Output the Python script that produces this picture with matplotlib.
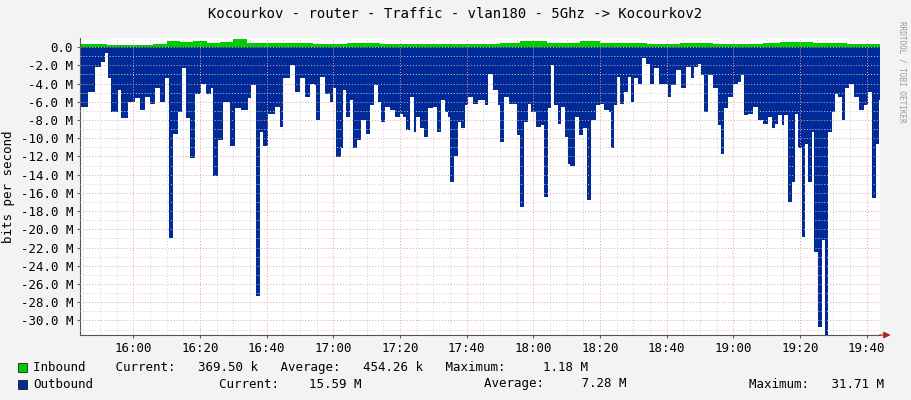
import numpy as np
import matplotlib.pyplot as plt
from matplotlib.patches import Rectangle

# minutes after 15:44, outbound traffic in Mbit/s (plotted negative)
out_min = [0.4, 2.4, 4.4, 6.4, 7.4, 8.4, 9.4, 11.4, 12.4, 14.4, 16.4, 17.9, 19.4, 20.9,
           22.4, 23.9, 25.4, 26.6, 27.9, 29.4, 30.6, 31.9, 32.9, 34.4, 36.4, 37.9, 39.4,
           39.9, 41.4, 42.9, 44.9, 46.4, 48.4, 50.4, 51.4, 52.7, 53.9, 54.9, 56.4, 58.4,
           59.9, 60.9, 62.9, 64.4, 65.9, 67.4, 68.9, 70.4, 70.9, 71.9, 73.4, 74.9, 75.9,
           76.9, 78.2, 78.9, 79.9, 80.9, 81.9, 83.2, 84.4, 85.9, 86.9, 88.2, 89.4, 90.2,
           91.4, 92.9, 94.4, 95.9, 96.9, 97.9, 99.1, 100.1, 100.9, 101.9, 103.1, 104.4,
           105.9, 107.1, 108.2, 109.4, 110.4, 111.1, 112.2, 113.4, 114.4, 115.4, 116.4,
           117.9, 119.4, 121.4, 122.3, 123.8, 125.3, 126.0, 127.3, 128.8, 130.3, 131.1,
           132.1, 133.1, 134.3, 135.3, 136.8, 138.3, 139.1, 140.3, 141.3, 142.3, 143.3,
           144.3, 145.5, 146.3, 147.1, 148.5, 149.8, 150.8, 152.1, 153.3, 154.8, 156.1,
           157.3, 158.6, 159.3, 160.3, 161.1, 162.1, 163.3, 164.3, 165.3, 166.3, 167.5,
           168.5, 169.8, 171.1, 172.3, 173.8, 175.3, 176.3, 177.3, 178.8, 180.3, 181.8,
           183.3, 184.3, 185.3, 186.3, 187.3, 188.5, 189.8, 191.3, 192.3, 193.3, 194.3,
           195.8, 197.3, 198.3, 199.3, 200.3, 201.8, 203.3, 204.8, 206.3, 207.5, 208.5,
           209.3, 210.5, 211.3, 212.5, 213.5, 214.5, 215.5, 216.5, 217.5, 218.5, 219.5,
           220.3, 221.3, 222.5, 223.4, 224.3, 225.5, 226.5, 227.5, 228.5, 229.5, 230.8,
           232.3, 233.8, 235.3, 236.5, 237.5, 238.8, 239.8]
out_val = [6.6, 4.9, 2.2, 1.6, 0.7, 3.4, 7.1, 4.7, 7.8, 6.0, 5.6, 6.9, 5.5, 6.2,
           4.5, 6.0, 3.4, 21.0, 9.5, 7.1, 2.3, 7.8, 12.2, 5.1, 4.0, 5.1, 4.5,
           14.2, 10.2, 6.0, 10.8, 6.7, 6.9, 5.6, 4.2, 27.3, 9.3, 10.8, 7.3, 6.6,
           8.8, 3.4, 2.0, 4.9, 3.4, 5.5, 4.0, 4.2, 8.0, 3.3, 5.1, 6.0, 4.5,
           12.1, 11.1, 4.7, 7.7, 5.8, 11.1, 10.2, 8.0, 9.5, 6.4, 4.2, 6.0, 8.2,
           6.6, 6.9, 7.7, 7.3, 7.7, 9.1, 5.5, 9.3, 7.7, 8.9, 9.9, 6.7,
           6.6, 9.3, 5.8, 7.1, 7.7, 14.8, 11.9, 8.2, 8.9, 6.4, 5.5,
           6.2, 5.8, 6.4, 2.9, 4.7, 6.4, 10.4, 5.5, 6.2, 6.2, 9.7,
           17.5, 8.2, 6.2, 7.1, 8.8, 8.6, 16.4, 6.7, 2.0, 6.4, 8.4,
           6.6, 9.9, 12.8, 13.0, 7.7, 9.7, 8.9, 16.8, 8.0, 6.4, 6.2,
           6.9, 7.1, 11.1, 6.4, 3.3, 6.2, 4.9, 3.3, 6.0, 3.4, 4.0,
           1.2, 1.8, 4.0, 2.3, 4.0, 4.0, 5.5, 4.2, 2.5, 4.5, 2.2,
           3.4, 2.2, 1.8, 3.1, 7.1, 3.1, 4.5, 8.6, 11.7, 6.7, 5.5,
           4.0, 3.8, 3.1, 7.5, 7.3, 6.6, 8.0, 8.4, 7.7, 8.9, 8.4,
           7.5, 8.6, 7.5, 17.0, 14.8, 7.3, 11.1, 20.8, 10.6, 14.8, 9.3,
           22.5, 30.7, 21.2, 31.6, 9.3, 7.1, 5.1, 5.5, 8.0, 4.5, 4.0,
           5.5, 6.9, 6.4, 4.9, 16.6, 10.6, 5.8]

# inbound traffic in Mbit/s
in_min = [0, 8, 16, 22, 26, 30, 34, 38, 42, 46, 50, 54, 60, 70, 80, 90, 100, 110, 120,
          126, 132, 140, 146, 150, 156, 160, 170, 180, 190, 200, 205, 210, 215, 220,
          230, 240]
in_val = [0.3, 0.25, 0.2, 0.35, 0.65, 0.55, 0.7, 0.45, 0.55, 0.85, 0.4, 0.5, 0.4,
          0.35, 0.4, 0.35, 0.3, 0.35, 0.3, 0.45, 0.7, 0.4, 0.5, 0.65, 0.4, 0.45,
          0.35, 0.4, 0.35, 0.35, 0.45, 0.55, 0.6, 0.45, 0.35, 0.35]

tick_labels = ['16:00', '16:20', '16:40', '17:00', '17:20', '17:40', '18:00',
               '18:20', '18:40', '19:00', '19:20', '19:40']
tick_min = [16 + 20 * i for i in range(len(tick_labels))]

bg = '#f3f3f3'
mono = 'DejaVu Sans Mono'
fig = plt.figure(figsize=(9.11, 4.0), dpi=100, facecolor=bg)
ax = fig.add_axes([80 / 911, 65 / 400, 800 / 911, 297 / 400])
ax.set_facecolor('white')

ax.fill_between(out_min + [240], -np.array(out_val + [out_val[-1]]), 0,
                step='post', color='#002a97', lw=0)
ax.fill_between(in_min, in_val, 0, step='post', color='#00cc00', lw=0)

ax.set_xlim(0, 240)
ax.set_ylim(-31.6, 1.0)
for m in np.arange(1, 240, 5):
    if (m - 16) % 20:
        ax.axvline(m, color='#cfcfcf', ls=(0, (1, 2)), lw=0.7, zorder=0.5)
for m in tick_min:
    ax.axvline(m, color='#e8a0a0', ls=(0, (1, 2)), lw=0.7, zorder=3)
for v in range(-31, 1):
    if v % 2:
        ax.axhline(v, color='#cfcfcf', ls=(0, (1, 2)), lw=0.7, zorder=3)
    else:
        ax.axhline(v, color='#e8a0a0', ls=(0, (1, 2)), lw=0.7, zorder=3)

ax.set_xticks(tick_min)
ax.set_xticklabels(tick_labels, family=mono, fontsize=9)
yt = list(range(0, -31, -2))
ax.set_yticks(yt)
ax.set_yticklabels(['0.0'] + ['%.1f M' % v for v in yt[1:]], family=mono, fontsize=9)
ax.tick_params(length=2, color='#aa4444', pad=3)
for s in ['top', 'right']:
    ax.spines[s].set_visible(False)
for s in ['left', 'bottom']:
    ax.spines[s].set_color('#555555')
ax.annotate('', xy=(244, -31.6), xytext=(239, -31.6), xycoords='data',
            arrowprops=dict(arrowstyle='-|>', color='#aa2222', lw=0.8),
            annotation_clip=False)

ax.set_ylabel('bits per second', family=mono, fontsize=9)
fig.text(0.5, 0.965, 'Kocourkov - router - Traffic - vlan180 - 5Ghz -> Kocourkov2',
         ha='center', va='center', family=mono, fontsize=10)
fig.text(0.99, 0.82, 'RRDTOOL / TOBI OETIKER', rotation=270, ha='center', va='center',
         family=mono, fontsize=5.5, color='#999999')

fig.patches.append(Rectangle((18 / 911, 28 / 400), 9 / 911, 9 / 400,
                             transform=fig.transFigure, fc='#00cc00', ec='black', lw=0.5))
fig.patches.append(Rectangle((18 / 911, 11 / 400), 9 / 911, 9 / 400,
                             transform=fig.transFigure, fc='#002a97', ec='black', lw=0.5))
fig.text(33 / 911, 32 / 400,
         'Inbound    Current:   369.50 k   Average:   454.26 k   Maximum:     1.18 M',
         va='center', family=mono, fontsize=9)
fig.text(33 / 911, 16 / 400, 'Outbound', va='center', family=mono, fontsize=9)
fig.text(219 / 911, 16 / 400, 'Current:    15.59 M', va='center', family=mono, fontsize=9)
fig.text(484 / 911, 16 / 400, 'Average:     7.28 M', va='center', family=mono, fontsize=9)
fig.text(749 / 911, 16 / 400, 'Maximum:   31.71 M', va='center', family=mono, fontsize=9)

fig.savefig('out.png', dpi=100, facecolor=bg)
